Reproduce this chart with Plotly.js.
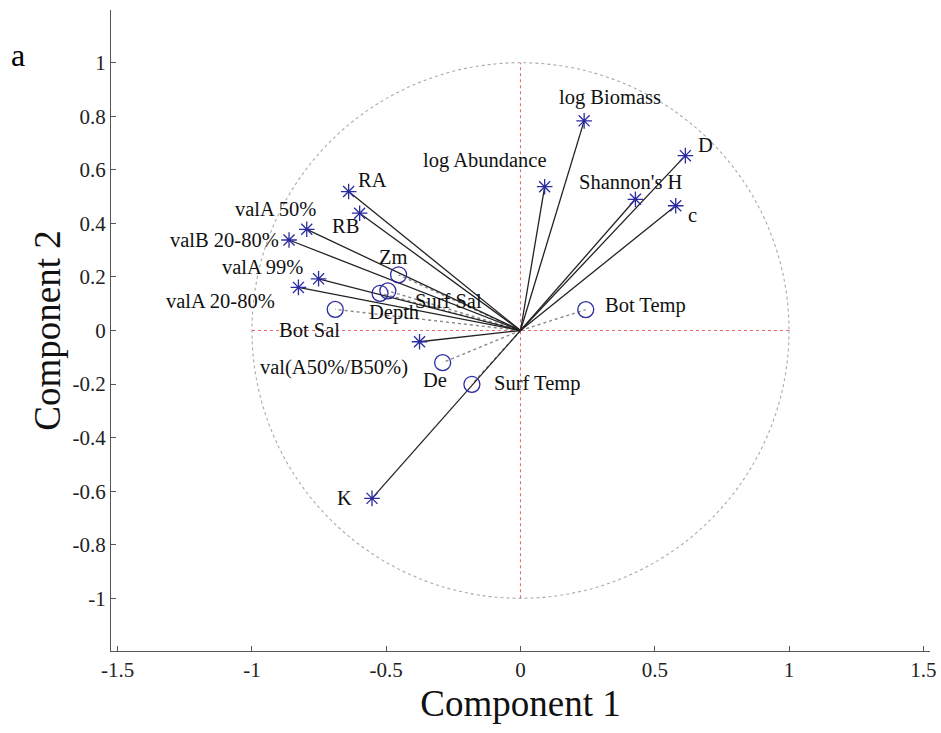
<!DOCTYPE html>
<html>
<head>
<meta charset="utf-8">
<script src="https://cdn.plot.ly/plotly-3.0.1.min.js"></script>
<style>html,body{margin:0;padding:0;background:#fff;}#plot{width:941px;height:733px;}</style>
</head>
<body>
<div id="plot"></div>
<script>
// Active variables (asterisks, solid vectors)
var starNames = ['log Biomass','log Abundance','D',"Shannon's H",'c','RA','RB','valA 50%','valB 20-80%','valA 99%','valA 20-80%','val(A50%/B50%)','K'];
var starX = [0.237, 0.090, 0.614, 0.428, 0.578, -0.640, -0.599, -0.796, -0.862, -0.752, -0.827, -0.376, -0.553];
var starY = [0.783, 0.537, 0.653, 0.490, 0.466, 0.519, 0.438, 0.378, 0.338, 0.193, 0.161, -0.042, -0.627];

// Passive variables (open circles, dotted vectors)
var circNames = ['Zm','Surf Sal','Depth','Bot Sal','De','Surf Temp','Bot Temp'];
var circX = [-0.454, -0.494, -0.523, -0.690, -0.290, -0.181, 0.243];
var circY = [0.208, 0.148, 0.139, 0.079, -0.120, -0.201, 0.078];

// Tick labels
var xTicks = [-1.5, -1, -0.5, 0, 0.5, 1, 1.5];
var xTickText = ['-1.5','-1','-0.5','0','0.5','1','1.5'];
var yTicks = [-1, -0.8, -0.6, -0.4, -0.2, 0, 0.2, 0.4, 0.6, 0.8, 1];
var yTickText = ['-1','-0.8','-0.6','-0.4','-0.2','0','0.2','0.4','0.6','0.8','1'];

// Label pixel offsets (style)
var starDX = [26, -60, 20, -4, 17, 24, -14, -31, -65, -56, -78, -86, -28];
var starDY = [-23, -26, -11, -17, 9, -12, 13, -20, 0, -12, 14, 26, 0];
var circDX = [-5, 61, 14, -26, -8, 65, 60];
var circDY = [-18, 10, 19, 21, 17, -1, -4];

function vectors(xs, ys) {
  var vx = [], vy = [];
  for (var i = 0; i < xs.length; i++) { vx.push(0, xs[i], null); vy.push(0, ys[i], null); }
  return {x: vx, y: vy};
}
var sv = vectors(starX, starY), cv = vectors(circX, circY);
var blue = '#2b2ba0';
var serif = '"Liberation Serif", "Times New Roman", serif';

var traces = [
  {type:'scatter', mode:'lines', x: cv.x, y: cv.y, line:{color:'#888', width:1.4, dash:'dot'}, hoverinfo:'skip', showlegend:false},
  {type:'scatter', mode:'lines', x: sv.x, y: sv.y, line:{color:'#222', width:1.3}, hoverinfo:'skip', showlegend:false},
  {type:'scatter', mode:'markers', x: starX, y: starY, text: starNames, marker:{symbol:'asterisk-open', size:13, color:blue, line:{color:blue, width:1.3}}, showlegend:false},
  {type:'scatter', mode:'markers', x: circX, y: circY, text: circNames, marker:{symbol:'circle-open', size:16, color:blue, line:{color:blue, width:1.3}}, showlegend:false}
];

var ann = [];
starNames.forEach(function(n, i){
  ann.push({x: starX[i], y: starY[i], text: n, showarrow:false, xshift: starDX[i], yshift: -starDY[i], xanchor:'center', yanchor:'middle', font:{family:serif, size:20.5, color:'#111'}});
});
circNames.forEach(function(n, i){
  ann.push({x: circX[i], y: circY[i], text: n, showarrow:false, xshift: circDX[i], yshift: -circDY[i], xanchor:'center', yanchor:'middle', font:{family:serif, size:20.5, color:'#111'}});
});
ann.push({xref:'paper', yref:'paper', x:-0.124, y:0.93, text:'a', showarrow:false, xanchor:'left', yanchor:'middle', font:{family:serif, size:32, color:'#000'}});

var layout = {
  width: 941, height: 733,
  margin: {l:111, r:11, t:10, b:82},
  paper_bgcolor:'#fff', plot_bgcolor:'#fff',
  font: {family: serif, color:'#222'},
  xaxis: {range:[-1.525, 1.525], tickvals:xTicks, ticktext:xTickText, ticks:'inside', ticklen:5, tickcolor:'#555',
          showline:true, linecolor:'#555', linewidth:1, mirror:false, showgrid:false, zeroline:false,
          tickfont:{family:serif, size:21, color:'#222'},
          title:{text:'Component 1', font:{family:serif, size:37, color:'#111'}, standoff:8}},
  yaxis: {range:[-1.197, 1.197], tickvals:yTicks, ticktext:yTickText, ticks:'inside', ticklen:5, tickcolor:'#555',
          showline:true, linecolor:'#555', linewidth:1, mirror:false, showgrid:false, zeroline:false,
          tickfont:{family:serif, size:21, color:'#222'},
          title:{text:'Component 2', font:{family:serif, size:37, color:'#111'}, standoff:0}},
  shapes: [
    {type:'circle', xref:'x', yref:'y', x0:-1, y0:-1, x1:1, y1:1, line:{color:'#aaa', width:1.1, dash:'dot'}, layer:'below'},
    {type:'line', xref:'x', yref:'y', x0:-1, y0:0, x1:1, y1:0, line:{color:'#e86a6a', width:1.1, dash:'dot'}, layer:'below'},
    {type:'line', xref:'x', yref:'y', x0:0, y0:-1, x1:0, y1:1, line:{color:'#e86a6a', width:1.1, dash:'dot'}, layer:'below'}
  ],
  annotations: ann,
  showlegend:false
};
Plotly.newPlot('plot', traces, layout, {displayModeBar:false, staticPlot:true});
</script>
</body>
</html>
